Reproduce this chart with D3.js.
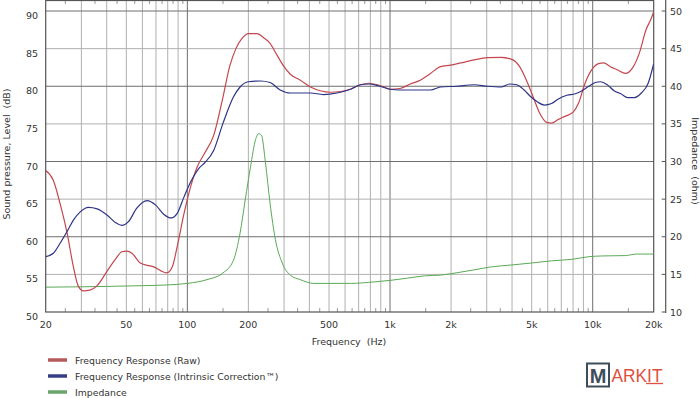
<!DOCTYPE html>
<html>
<head>
<meta charset="utf-8">
<script src="https://cdn.jsdelivr.net/npm/d3@7"></script>
<style>
  body { margin: 0; background: #fff; }
  svg { display: block; font-family: "DejaVu Sans", Verdana, sans-serif; }
</style>
</head>
<body>
<svg id="chart" width="700" height="398"></svg>
<script>
// Frequency response (raw), dB
const rawHz = [20, 21.8, 23.5, 25.5, 27.4, 29, 30.7, 33, 35.9, 40.1, 44.1, 47.5, 50.3, 53.3, 58.6, 63.3, 68.3, 73.7, 79.3, 84.3, 89.1, 96.3, 103.9, 111.9, 121.6, 135, 150, 161.6, 173.6, 186.5, 200, 221, 239, 256, 276, 300, 322, 361, 405, 453, 508, 570, 638, 715, 787, 868, 938, 1000, 1121, 1258, 1410, 1583, 1775, 1992, 2235, 2600, 3030, 3530, 4040, 4360, 4710, 5080, 5480, 5920, 6270, 6770, 7300, 8030, 8500, 9170, 9900, 10690, 11320, 12220, 13200, 14530, 15700, 16990, 18330, 19440, 20000];
const rawDb = [68.8, 67.5, 64.5, 60.5, 56.0, 53.4, 52.8, 52.9, 53.5, 55.4, 57.0, 58.0, 58.1, 57.8, 56.5, 56.2, 56.0, 55.5, 55.2, 56.0, 58.7, 63.1, 66.7, 69.3, 71.1, 73.5, 78.6, 82.6, 85.0, 86.4, 87.0, 87.0, 86.4, 85.7, 84.2, 82.6, 81.6, 80.8, 79.9, 79.4, 79.2, 79.3, 79.6, 80.2, 80.4, 80.2, 79.9, 79.6, 79.7, 80.3, 80.8, 81.7, 82.6, 82.8, 83.1, 83.5, 83.8, 83.85, 83.5, 82.6, 80.8, 78.6, 76.4, 75.2, 75.1, 75.6, 76.0, 76.6, 77.7, 80.4, 82.2, 83.0, 83.1, 82.6, 82.2, 81.7, 82.4, 84.4, 87.5, 89.0, 89.9];

// Frequency response (intrinsic correction), dB
const corrHz = [20, 21.8, 23.5, 25.5, 27.4, 29.6, 32.5, 35.9, 40.1, 44.1, 47.5, 51.2, 56.3, 63.3, 69.8, 76.4, 83.3, 89.1, 96.3, 103.9, 114, 121.6, 135, 150, 169, 182, 200, 230, 256, 287, 322, 361, 405, 470, 548, 638, 715, 787, 868, 1000, 1121, 1300, 1583, 1775, 2120, 2600, 3030, 3530, 3900, 4220, 4590, 4950, 5350, 5780, 6270, 6770, 7460, 8210, 8860, 9560, 10300, 10900, 11800, 12750, 13780, 14880, 16080, 17380, 18780, 20000];
const corrDb = [57.35, 57.8, 59.1, 60.7, 62.2, 63.3, 63.9, 63.7, 62.9, 61.9, 61.5, 62.0, 63.8, 64.8, 64.2, 63.0, 62.5, 63.1, 65.3, 67.3, 69.1, 69.8, 71.5, 75.1, 78.6, 79.9, 80.6, 80.7, 80.5, 79.5, 79.1, 79.1, 79.1, 78.9, 79.1, 79.6, 80.2, 80.3, 80.1, 79.6, 79.5, 79.5, 79.5, 79.9, 80.0, 80.2, 80.0, 79.9, 80.3, 80.2, 79.5, 78.6, 77.9, 77.5, 77.7, 78.3, 78.8, 79.0, 79.4, 80.0, 80.5, 80.6, 80.2, 79.4, 79.0, 78.5, 78.5, 79.1, 80.4, 83.0];

// Impedance, ohm
const impHz = [20, 30, 40, 60, 80, 100, 125, 150, 169, 182, 193, 205, 217, 225, 232, 243, 256, 272, 294, 322, 361, 421, 638, 835, 1000, 1220, 1480, 1775, 2120, 2600, 3170, 3980, 4950, 6270, 7900, 9560, 11150, 14530, 16450, 20000];
const impOhm = [13.3, 13.35, 13.4, 13.5, 13.6, 13.8, 14.3, 15.2, 16.9, 20.5, 24.9, 29.3, 32.9, 33.7, 33.5, 29.8, 24.4, 19.6, 16.5, 14.9, 14.3, 13.8, 13.8, 14.0, 14.2, 14.5, 14.8, 14.9, 15.2, 15.6, 16.0, 16.25, 16.5, 16.8, 17.0, 17.35, 17.45, 17.5, 17.7, 17.7];

const xTickValues = [20, 50, 100, 200, 500, 1000, 2000, 5000, 10000, 20000];
const xTickLabels = ['20', '50', '100', '200', '500', '1k', '2k', '5k', '10k', '20k'];
const dbTicks = [50, 55, 60, 65, 70, 75, 80, 85, 90];
const ohmTicks = [10, 15, 20, 25, 30, 35, 40, 45, 50];

const series = [
  { name: 'Frequency Response (Raw)', hz: rawHz, v: rawDb, axis: 'db', color: '#c4474f', swatch: '#b45a5a', width: 1.2 },
  { name: 'Frequency Response (Intrinsic Correction\u2122)', hz: corrHz, v: corrDb, axis: 'db', color: '#2d3487', swatch: '#363c86', width: 1.2 },
  { name: 'Impedance', hz: impHz, v: impOhm, axis: 'ohm', color: '#5aa957', swatch: '#6aa66a', width: 1 }
];

(function() {
  let svg = d3.select('#chart');
  let left = 45.7, right = 653.7, plotTop = 0, bottom = 312;

  let x = d3.scaleLog().domain([20, 20000]).range([left, right]);
  let yDb = d3.scaleLinear().domain([50, 90]).range([bottom, 11]);
  let yOhm = d3.scaleLinear().domain([10, 50]).range([bottom, 11]);

  //
  // Grid
  //
  let grid = svg.append('g').attr('class', 'grid');
  let vLines = [];
  for (let dec = 10; dec <= 10000; dec *= 10) {
    for (let m = 1; m <= 9; m++) {
      let f = dec * m;
      if (f > 20 && f < 20000) vLines.push(f);
    }
  }
  grid.selectAll('.vgrid').data(vLines).enter().append('line')
    .attr('x1', (f) => x(f)).attr('x2', (f) => x(f))
    .attr('y1', plotTop).attr('y2', bottom)
    .attr('stroke', (f) => [100, 1000, 10000].includes(f) ? '#6e6e6e' : '#b0b0b0')
    .attr('stroke-width', 1);

  grid.selectAll('.hgrid').data(dbTicks.filter((d) => d > 50)).enter().append('line')
    .attr('x1', left).attr('x2', right)
    .attr('y1', (d) => yDb(d)).attr('y2', (d) => yDb(d))
    .attr('stroke', (d) => d % 10 === 0 ? '#6e6e6e' : '#b0b0b0')
    .attr('stroke-width', 1);

  // minor ticks at half steps, top and bottom
  let minor = [];
  for (let dec = 10; dec <= 10000; dec *= 10) {
    for (let m = 1.5; m < 10; m += 1) {
      let f = dec * m;
      if (f > 20 && f < 20000) minor.push(f);
    }
  }
  grid.selectAll('.mtb').data(minor).enter().append('line')
    .attr('x1', (f) => x(f)).attr('x2', (f) => x(f))
    .attr('y1', bottom - 4).attr('y2', bottom)
    .attr('stroke', '#999');
  grid.selectAll('.mtt').data(minor).enter().append('line')
    .attr('x1', (f) => x(f)).attr('x2', (f) => x(f))
    .attr('y1', plotTop).attr('y2', plotTop + 4)
    .attr('stroke', '#999');

  // frame
  svg.append('rect')
    .attr('x', left).attr('y', plotTop + 0.5)
    .attr('width', right - left).attr('height', bottom - plotTop - 0.5)
    .attr('fill', 'none').attr('stroke', '#555').attr('stroke-width', 1.2);

  //
  // Axes labels
  //
  let textColor = '#333';
  svg.append('g').selectAll('text').data(dbTicks).enter().append('text')
    .attr('x', 38).attr('y', (d) => yDb(d) + 8)
    .attr('text-anchor', 'end').attr('font-size', 9.5).attr('fill', textColor)
    .text((d) => d);

  svg.append('g').selectAll('text').data(xTickValues).enter().append('text')
    .attr('x', (f) => x(f)).attr('y', 328)
    .attr('text-anchor', 'middle').attr('font-size', 9.5).attr('fill', textColor)
    .text((f, i) => xTickLabels[i]);

  svg.append('text')
    .attr('x', 349).attr('y', 345)
    .attr('text-anchor', 'middle').attr('font-size', 9.5).attr('fill', textColor)
    .attr('xml:space', 'preserve')
    .text('Frequency  (Hz)');

  svg.append('text')
    .attr('transform', 'translate(10,154) rotate(-90)')
    .attr('text-anchor', 'middle').attr('font-size', 9.5).attr('fill', textColor)
    .attr('xml:space', 'preserve')
    .text('Sound pressure, Level  (dB)');

  // right impedance axis
  let rAxisX = 665.7;
  svg.append('line')
    .attr('x1', rAxisX).attr('x2', rAxisX).attr('y1', 0).attr('y2', bottom + 1)
    .attr('stroke', '#555').attr('stroke-width', 1.2);
  svg.append('g').selectAll('line').data(ohmTicks).enter().append('line')
    .attr('x1', rAxisX - 4).attr('x2', rAxisX)
    .attr('y1', (d) => yOhm(d)).attr('y2', (d) => yOhm(d))
    .attr('stroke', '#555');
  svg.append('g').selectAll('text').data(ohmTicks).enter().append('text')
    .attr('x', 670).attr('y', (d) => yOhm(d) + 3.5)
    .attr('font-size', 9.5).attr('fill', textColor)
    .text((d) => d);

  svg.append('text')
    .attr('transform', 'translate(692,161) rotate(90)')
    .attr('text-anchor', 'middle').attr('font-size', 9.5).attr('fill', textColor)
    .attr('xml:space', 'preserve')
    .text('Impedance  (ohm)');

  //
  // Curves
  //
  svg.append('clipPath').attr('id', 'plot-clip')
    .append('rect').attr('x', left).attr('y', plotTop).attr('width', right - left).attr('height', bottom - plotTop);

  let curves = svg.append('g').attr('clip-path', 'url(#plot-clip)');
  // draw impedance first so the responses sit on top
  [series[2], series[0], series[1]].forEach((s) => {
    let yScale = s.axis === 'db' ? yDb : yOhm;
    let line = d3.line()
      .x((d) => x(d[0]))
      .y((d) => yScale(d[1]))
      .curve(d3.curveMonotoneX);
    curves.append('path')
      .datum(s.hz.map((h, i) => [h, s.v[i]]))
      .attr('d', line)
      .attr('fill', 'none')
      .attr('stroke', s.color)
      .attr('stroke-width', s.width);
  });

  //
  // Legend
  //
  let legend = svg.append('g').selectAll('g').data(series).enter().append('g')
    .attr('transform', (d, i) => `translate(0, ${360 + i * 16})`);
  legend.append('line')
    .attr('x1', 48).attr('x2', 67).attr('y1', 0).attr('y2', 0)
    .attr('stroke', (d) => d.swatch).attr('stroke-width', 3.5);
  legend.append('text')
    .attr('x', 75).attr('y', 3.5)
    .attr('font-size', 9.3).attr('fill', textColor)
    .text((d) => d.name);

  //
  // Logo
  //
  let logo = svg.append('g').attr('font-family', '"Liberation Sans", Arial, sans-serif');
  logo.append('rect')
    .attr('x', 587).attr('y', 363.5).attr('width', 22).attr('height', 23)
    .attr('fill', 'none').attr('stroke', '#3d4d5c').attr('stroke-width', 2);
  logo.append('text')
    .attr('x', 598).attr('y', 383).attr('text-anchor', 'middle')
    .attr('font-size', 20).attr('font-weight', 'bold').attr('fill', '#3d4d5c')
    .text('M');
  logo.append('text')
    .attr('x', 611.5).attr('y', 382)
    .attr('font-size', 18.5).attr('fill', '#e0503f')
    .attr('textLength', 51).attr('lengthAdjust', 'spacingAndGlyphs')
    .text('ARKIT');
  // underline under "IT"
  logo.append('line')
    .attr('x1', 646).attr('x2', 663).attr('y1', 383.5).attr('y2', 383.5)
    .attr('stroke', '#e0503f').attr('stroke-width', 1.3);
})();
</script>
</body>
</html>
